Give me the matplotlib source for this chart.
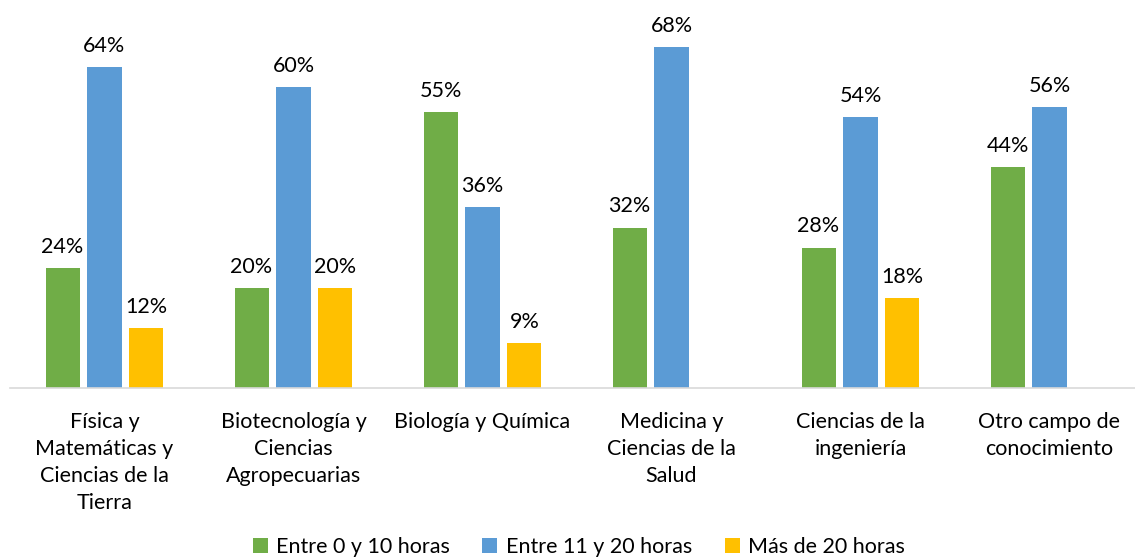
import numpy as np
import matplotlib.pyplot as plt

plt.rcParams['font.family'] = ['Lato', 'DejaVu Sans']

categories = ['Física y\nMatemáticas y\nCiencias de la\nTierra',
              'Biotecnología y\nCiencias\nAgropecuarias',
              'Biología y Química',
              'Medicina y\nCiencias de la\nSalud',
              'Ciencias de la\ningeniería',
              'Otro campo de\nconocimiento']
series = ['Entre 0 y 10 horas', 'Entre 11 y 20 horas', 'Más de 20 horas']
entre_0_10 = [24, 20, 55, 32, 28, 44]
entre_11_20 = [64, 60, 36, 68, 54, 56]
mas_20 = [12, 20, 9, np.nan, 18, np.nan]
colors = ['#70ad47', '#5b9bd5', '#ffc000']

fig = plt.figure(figsize=(11.35, 5.6), dpi=100)
# axes spans x 10..1144 px, y baseline at 388 px
ax = fig.add_axes([10 / 1135, 1 - 388 / 560, 1134 / 1135, 345 / 560])

x = np.arange(len(categories))
w = 0.18
step = 0.222
for i, (vals, c, name) in enumerate(zip([entre_0_10, entre_11_20, mas_20], colors, series)):
    pos = x + (i - 1) * step
    vals = np.array(vals, dtype=float)
    ax.bar(pos, vals, w, color=c, label=name)
    for p, v in zip(pos, vals):
        if not np.isnan(v):
            ax.annotate(f'{v:.0f}%', (p, v), xytext=(0, 8), textcoords='offset points',
                        ha='center', va='bottom', fontsize=15.5, color='#000000')

ax.set_xlim(-0.5, len(categories) - 0.5)
ax.set_ylim(0, 68.8)
ax.set_yticks([])
ax.set_xticks(x)
ax.set_xticklabels(categories, fontsize=15.5, linespacing=1.45)
ax.tick_params(axis='x', length=0, pad=17)
for s in ['top', 'right', 'left']:
    ax.spines[s].set_visible(False)
ax.spines['bottom'].set_color('#d9d9d9')
ax.spines['bottom'].set_linewidth(1.2)

fig.legend(loc='center', bbox_to_anchor=(0.51, 1 - 547 / 560), ncol=3, frameon=False,
           fontsize=15.5, handlelength=0.7, handleheight=0.7, handletextpad=0.4,
           columnspacing=1.5)

fig.savefig('out.png', dpi=100)
